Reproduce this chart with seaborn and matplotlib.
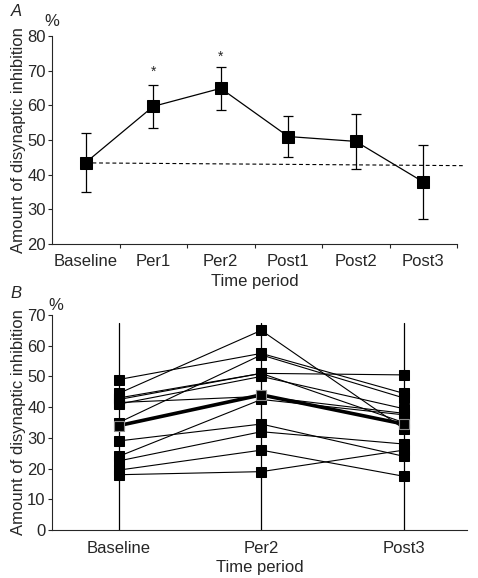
import numpy as np
import pandas as pd
import seaborn as sns
import matplotlib.pyplot as plt

# panel A data (group mean with asymmetric error bars)
periods_a = ["Baseline", "Per1", "Per2", "Post1", "Post2", "Post3"]
mean_a = [43.5, 59.7, 64.9, 51.0, 49.6, 37.9]
err_hi = [52.0, 66.0, 71.2, 57.0, 57.5, 48.6]
err_lo = [35.0, 53.4, 58.7, 45.0, 41.6, 27.3]
baseline_ref = [43.4, 42.6]
starred = ["Per1", "Per2"]
star_y = [69.7, 74.0]

# panel B data (individual subjects + mean)
periods_b = ["Baseline", "Per2", "Post3"]
subj_base = [49.0, 44.5, 35.0, 42.5, 41.0, 41.5, 29.0, 22.5, 19.5, 18.0, 24.0, 43.0]
subj_per2 = [57.5, 65.0, 57.0, 51.0, 50.0, 43.5, 34.5, 32.0, 26.0, 19.0, 42.5, 51.0]
subj_post3 = [44.5, 33.0, 43.0, 50.5, 39.5, 38.0, 24.0, 28.0, 17.5, 26.0, 37.5, 35.0]
mean_b = [34.0, 44.0, 34.5]

sns.set_style("ticks")
plt.rcParams['font.family'] = ['Liberation Sans', 'DejaVu Sans']
plt.rcParams['font.size'] = 12

fig = plt.figure(figsize=(4.78, 5.78), dpi=100)
W, H = 478, 578

def px_axes(l, t, r, b):
    return fig.add_axes([l / W, 1 - b / H, (r - l) / W, (b - t) / H])

# ---------------- panel A ----------------
ax1 = px_axes(52, 36, 457, 244)
xa = np.arange(len(periods_a))
dfa = pd.DataFrame({"x": xa, "y": mean_a})
ax1.plot([xa[0], xa[-1] + 0.585], baseline_ref, ls=(0, (3.5, 2.5)), color="black",
         lw=0.8, clip_on=False, zorder=1)
sns.lineplot(data=dfa, x="x", y="y", ax=ax1, color="black", lw=0.9, marker="s",
             markersize=8, markeredgecolor="black", zorder=3)
yerr = [np.array(mean_a) - np.array(err_lo), np.array(err_hi) - np.array(mean_a)]
ax1.errorbar(xa, mean_a, yerr=yerr, fmt="none", ecolor="black", elinewidth=0.9,
             capsize=3.5, capthick=0.9, zorder=2)
for p, yv in zip(starred, star_y):
    ax1.text(periods_a.index(p), yv, "*", ha="center", va="center", fontsize=10)

ax1.set_xlim(-0.5, 5.5)
ax1.set_ylim(20, 80)
ax1.set_yticks(range(20, 81, 10))
ax1.set_xticks(xa)
ax1.set_xticklabels(periods_a)
ax1.set_xticks(np.arange(0.5, 6, 1), minor=True)
ax1.tick_params(axis="x", which="major", length=0, pad=7)
ax1.tick_params(axis="x", which="minor", length=3, width=0.8, direction="out")
ax1.tick_params(axis="y", length=3, width=0.8, pad=1.5)
ax1.set_xlabel("Time period", labelpad=4)
ax1.set_ylabel("Amount of disynaptic inhibition", labelpad=1)
sns.despine(ax=ax1)
for s in ["left", "bottom"]:
    ax1.spines[s].set_linewidth(0.8)
fig.text(16 / W, 1 - 12 / H, "A", style="italic", ha="center", va="center")
fig.text(52 / W, 1 - 21 / H, "%", ha="center", va="center")

# ---------------- panel B ----------------
ax2 = px_axes(52, 315, 467, 530)
n = len(subj_base)
dfb = pd.DataFrame({
    "subject": np.repeat(np.arange(n), 3),
    "x": np.tile(np.arange(3), n),
    "y": np.column_stack([subj_base, subj_per2, subj_post3]).ravel(),
})
for i in range(3):
    ax2.axvline(i, ymin=0, ymax=67.5 / 70, color="black", lw=0.9, zorder=1)
sns.lineplot(data=dfb, x="x", y="y", units="subject", estimator=None, ax=ax2,
             color="black", lw=0.8, marker="s", markersize=7,
             markeredgecolor="black", zorder=2)
dfm = pd.DataFrame({"x": np.arange(3), "y": mean_b})
sns.lineplot(data=dfm, x="x", y="y", ax=ax2, color="black", lw=2.6, marker="s",
             markersize=7, markeredgecolor="0.55", markeredgewidth=0.8, zorder=3)

ax2.set_xlim(-0.47, 2.445)
ax2.set_ylim(0, 70)
ax2.set_yticks(range(0, 71, 10))
ax2.set_xticks(np.arange(3))
ax2.set_xticklabels(periods_b)
ax2.tick_params(axis="x", length=0, pad=8)
ax2.tick_params(axis="y", length=3, width=0.8, pad=1.5)
ax2.set_xlabel("Time period", labelpad=3)
ax2.set_ylabel("Amount of disynaptic inhibition", labelpad=1)
sns.despine(ax=ax2)
for s in ["left", "bottom"]:
    ax2.spines[s].set_linewidth(0.8)
fig.text(16 / W, 1 - 294 / H, "B", style="italic", ha="center", va="center")
fig.text(56 / W, 1 - 306 / H, "%", ha="center", va="center")

fig.savefig("out.png", dpi=100)
